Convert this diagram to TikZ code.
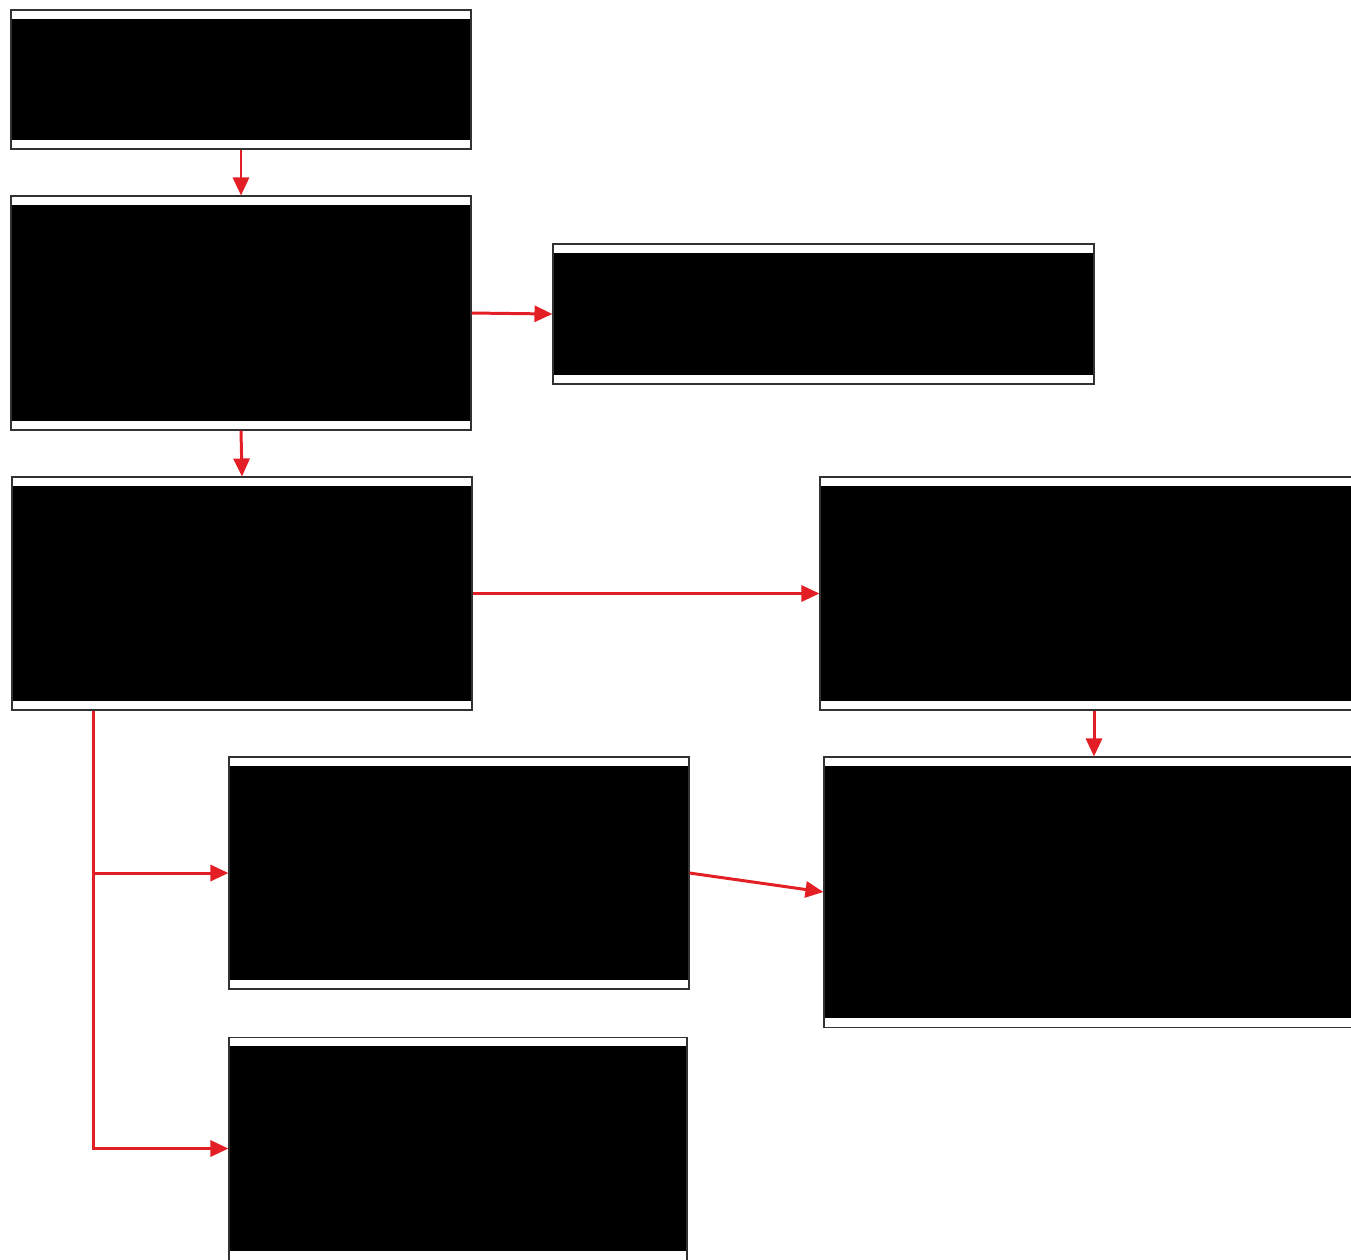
\documentclass[tikz,border=0pt]{standalone}
\usetikzlibrary{arrows.meta,fit,calc}
\definecolor{arrred}{RGB}{227,30,36}
\definecolor{boxline}{RGB}{50,50,50}
\begin{document}
\begin{tikzpicture}[x=0.01cm,y=-0.01cm,
  imgbox/.style={draw=boxline,line width=0.3pt,fill=white,inner sep=0pt,
    path picture={\fill[black] ([yshift=-0.9mm]path picture bounding box.north west) rectangle ([yshift=0.9mm]path picture bounding box.south east);}},
  arr/.style={draw=arrred,line width=0.85pt,-{Triangle[length=1.8mm,width=1.6mm]}}]
\useasboundingbox (0,0) rectangle (1351,1259);
\clip (0,0) rectangle (1351,1259);
\node[imgbox,fit={(11,10) (471,149)}] (A) {};
\node[imgbox,fit={(11,196) (471,430)}] (B) {};
\node[imgbox,fit={(553,244) (1094,384)}] (C) {};
\node[imgbox,fit={(12,477) (472,710)}] (D) {};
\node[imgbox,fit={(820,477) (1368,710)}] (E) {};
\node[imgbox,fit={(229,757) (689,989)}] (F) {};
\node[imgbox,fit={(824,757) (1364,1027)}] (G) {};
\node[imgbox,fit={(229,1037) (687,1260)}] (H) {};
\draw[arr] (A.south) -- (B.north);
\draw[arr] (B.east) -- (C.west);
\draw[arr] (B.south) -- (D.north);
\draw[arr] (D.east) -- (E.west);
\draw[arr] (E.south) -- (G.north);
\draw[arr] (F.east) -- (G.west);
\coordinate (trunk) at ($(D.south west)+(82,0)$);
\draw[arr] (trunk) |- (F.west);
\draw[arr] (trunk) |- (H.west);
\end{tikzpicture}
\end{document}
